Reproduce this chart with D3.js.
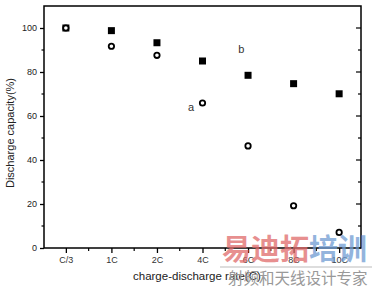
<!DOCTYPE html>
<html><head><meta charset="utf-8">
<script src="https://cdn.jsdelivr.net/npm/d3@7"></script>
<style>body{margin:0;background:#fff}svg{display:block}</style>
</head><body>
<svg id="c" width="375" height="288"></svg>
<script>
const categories = ["C/3","1C","2C","4C","6C","8C","10C"];
const seriesA = [100, 91.7, 87.6, 65.9, 46.4, 19.2, 7.1];
const seriesB = [100, 98.8, 93.3, 85.0, 78.5, 74.7, 70.1];
const yTicks = [0,20,40,60,80,100];

const svg = d3.select("#c");
const L=44, R=361, T=6, B=248;
const x = d3.scaleLinear().domain([-0.48,6.48]).range([L,R]);
const y = d3.scaleLinear().domain([0,110]).range([B,T]);
const font = "Liberation Sans, Arial, sans-serif";

// frame
svg.append("rect").attr("x",L).attr("y",T).attr("width",R-L).attr("height",B-T)
  .attr("fill","none").attr("stroke","#000").attr("stroke-width",1.5);

// y axis
const ya = svg.append("g").attr("transform",`translate(${L},0)`)
  .call(d3.axisLeft(y).tickValues(yTicks).tickSize(4).tickPadding(3));
ya.select(".domain").remove();
ya.selectAll("text").attr("font-family",font).attr("font-size",9).attr("fill","#222");
ya.selectAll("line").attr("stroke-width",1.3);
const yMinor = d3.range(10,110,20);
svg.append("g").selectAll("line").data(yMinor).join("line")
  .attr("x1",L-2.5).attr("x2",L).attr("y1",d=>y(d)).attr("y2",d=>y(d)).attr("stroke","#000").attr("stroke-width",1.2);
// right axis inward ticks
svg.append("g").selectAll("line").data(yTicks.concat(yMinor)).join("line")
  .attr("x1",R).attr("x2",d=>R-(yTicks.includes(d)?5:3)).attr("y1",d=>y(d)).attr("y2",d=>y(d)).attr("stroke","#000").attr("stroke-width",1.2);

// x axis
const xa = svg.append("g").attr("transform",`translate(0,${B})`)
  .call(d3.axisBottom(x).tickValues(d3.range(categories.length)).tickFormat(i=>categories[i]).tickSize(5).tickPadding(4));
xa.select(".domain").remove();
xa.selectAll("text").attr("font-family",font).attr("font-size",9).attr("fill","#333");
xa.selectAll("line").attr("stroke-width",1.3);
svg.append("g").selectAll("line").data(d3.range(-0.5,6.6,1).filter(v=>v>-0.48&&v<6.48)).join("line")
  .attr("x1",d=>x(d)).attr("x2",d=>x(d)).attr("y1",B).attr("y2",B+3).attr("stroke","#000").attr("stroke-width",1.2);

// series B: filled squares
svg.append("g").selectAll("rect").data(seriesB).join("rect")
  .attr("x",(d,i)=>x(i)-3.5).attr("y",d=>y(d)-3.5).attr("width",7).attr("height",7).attr("fill","#000");
// series A: open circles
svg.append("g").selectAll("circle").data(seriesA).join("circle")
  .attr("cx",(d,i)=>x(i)).attr("cy",d=>y(d)).attr("r",2.7)
  .attr("fill","#fff").attr("stroke","#000").attr("stroke-width",1.8);

// labels a, b
svg.append("text").attr("x",x(2.75)).attr("y",y(62.5)).text("a")
  .attr("font-family",font).attr("font-size",11).attr("fill","#333").attr("text-anchor","middle");
svg.append("text").attr("x",x(3.85)).attr("y",y(88.5)).text("b")
  .attr("font-family",font).attr("font-size",11).attr("fill","#333").attr("text-anchor","middle");

// axis titles
svg.append("text").attr("transform",`translate(14,133) rotate(-90)`).attr("text-anchor","middle")
  .attr("font-family",font).attr("font-size",11).attr("fill","#222").text("Discharge capacity(%)");
svg.append("text").attr("x",133).attr("y",280).attr("text-anchor","start")
  .attr("font-family",font).attr("font-size",11.5).attr("fill","#222").text("charge-discharge rate(C)");

// watermark
const wm = svg.append("g").attr("font-family","Noto Sans CJK SC");
wm.append("line").attr("x1",220).attr("x2",372).attr("y1",267).attr("y2",267).attr("stroke","#bbb").attr("stroke-width",1);
const wt = wm.append("text").attr("x",222).attr("y",260).attr("font-size",29).attr("font-weight","bold").attr("opacity",0.75);
wt.append("tspan").attr("fill","#e06a6a").text("易迪拓");
wt.append("tspan").attr("fill","#6f9bd2").text("培训");
wm.append("text").attr("x",228).attr("y",284).attr("font-size",15.5).attr("fill","#999").text("射频和天线设计专家");
</script>
</body></html>
